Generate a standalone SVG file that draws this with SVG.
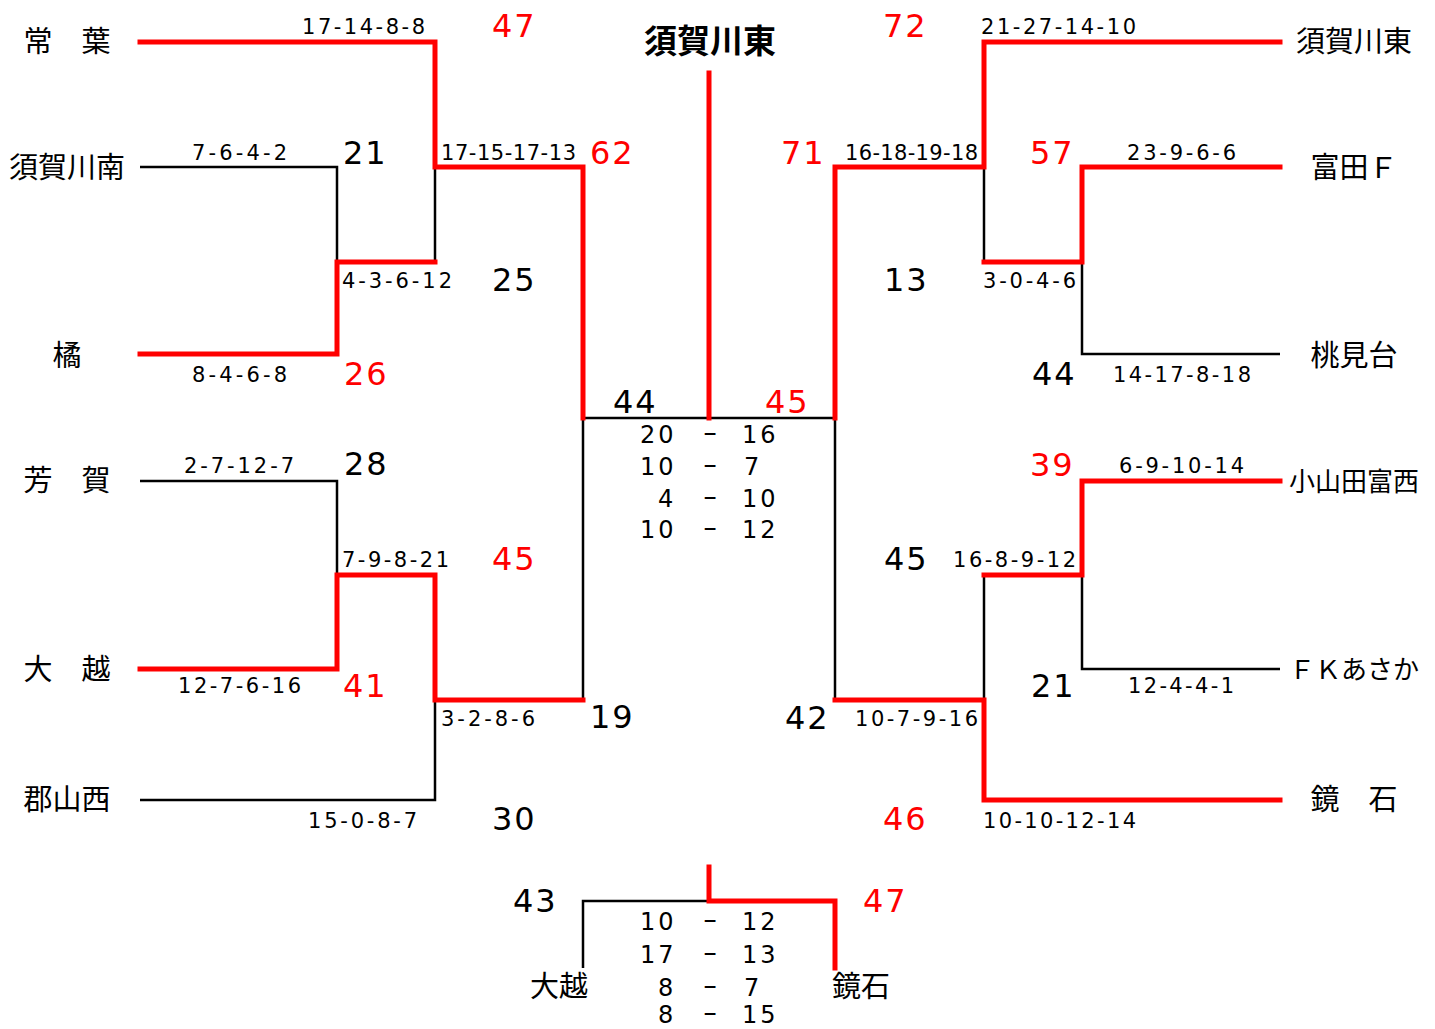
<svg xmlns="http://www.w3.org/2000/svg" width="1435" height="1029" viewBox="0 0 1435 1029">
<style>
.bk{fill:none;stroke:#000;stroke-width:2.5;stroke-linejoin:miter}
.rd{fill:none;stroke:#ff0000;stroke-width:5;stroke-linejoin:miter;stroke-linecap:square}
.nm{font-family:"Noto Sans CJK JP","Noto Sans CJK SC",sans-serif;font-size:29px;fill:#000;text-anchor:middle}
.nms{font-size:26px}
.ttl{font-family:"Noto Sans CJK JP","Noto Sans CJK SC",sans-serif;font-size:33px;font-weight:bold;fill:#000;text-anchor:middle}
.big{font-family:"DejaVu Sans",Verdana,sans-serif;font-size:32px;letter-spacing:2px;fill:#000}
.r{fill:#ff0000}
.set{font-family:"DejaVu Sans",Verdana,sans-serif;font-size:21px;fill:#000}
.cs{font-family:"DejaVu Sans",Verdana,sans-serif;font-size:24px;letter-spacing:3px;fill:#000}
.dash{font-family:"DejaVu Sans",Verdana,sans-serif;font-size:24px;fill:#000;text-anchor:middle}
</style>
<g id="connectors">
<path class="bk" d="M140,167 H337 V262"/>
<path class="bk" d="M435,167 V262"/>
<path class="bk" d="M140,481 H337 V575"/>
<path class="bk" d="M140,800 H435 V700"/>
<path class="bk" d="M583,700 V418 H835 V700"/>
<path class="bk" d="M1280,354 H1082 V262"/>
<path class="bk" d="M984,167 V262"/>
<path class="bk" d="M1280,669 H1082 V575"/>
<path class="bk" d="M984,575 V700"/>
<path class="bk" d="M709,901 H583 V968"/>
<path class="rd" d="M140,42 H435 V167 H583 V418"/>
<path class="rd" d="M709,73 V418"/>
<path class="rd" d="M140,354 H337 V262 H435"/>
<path class="rd" d="M140,669 H337 V575 H435 V700 H583"/>
<path class="rd" d="M1280,42 H984 V167 H835 V418"/>
<path class="rd" d="M1280,167 H1082 V262 H984"/>
<path class="rd" d="M1280,481 H1082 V575 H984"/>
<path class="rd" d="M1280,800 H984 V700 H835"/>
<path class="rd" d="M709,867 V901 H835 V968"/>
</g>
<g id="title"><text class="ttl" x="710" y="53">須賀川東</text></g>
<g id="team-tokiwa"><text class="nm" x="67" y="52">常　葉</text></g>
<g id="team-sukagawaminami"><text class="nm" x="67" y="178">須賀川南</text></g>
<g id="team-tachibana"><text class="nm" x="67" y="366">橘</text></g>
<g id="team-haga"><text class="nm" x="67" y="491">芳　賀</text></g>
<g id="team-ogoe"><text class="nm" x="67" y="680">大　越</text></g>
<g id="team-koriyamanishi"><text class="nm" x="67" y="810">郡山西</text></g>
<g id="team-sukagawahigashi"><text class="nm" x="1354" y="52">須賀川東</text></g>
<g id="team-tomitaf"><text class="nm" x="1354" y="178">富田Ｆ</text></g>
<g id="team-momomidai"><text class="nm" x="1354" y="366">桃見台</text></g>
<g id="team-oyamadatominishi"><text class="nm nms" x="1354" y="491">小山田富西</text></g>
<g id="team-fkasaka"><text class="nm nms" x="1354" y="679">ＦＫあさか</text></g>
<g id="team-kagamiishi"><text class="nm" x="1354" y="810">鏡　石</text></g>
<g id="team-ogoe-3rd"><text class="nm" x="559" y="997">大越</text></g>
<g id="team-kagamiishi-3rd"><text class="nm" x="861" y="997">鏡石</text></g>
<g id="scores">
<text class="big r" x="492" y="37">47</text>
<text class="big" x="343" y="164">21</text>
<text class="big r" x="590" y="164">62</text>
<text class="big" x="492" y="291">25</text>
<text class="big r" x="344" y="385">26</text>
<text class="big" x="613" y="413">44</text>
<text class="big" x="344" y="475">28</text>
<text class="big r" x="492" y="570">45</text>
<text class="big r" x="343" y="697">41</text>
<text class="big" x="590" y="728">19</text>
<text class="big" x="492" y="830">30</text>
<text class="big r" x="765" y="413">45</text>
<text class="big r" x="883" y="37">72</text>
<text class="big r" x="781" y="164">71</text>
<text class="big r" x="1030" y="164">57</text>
<text class="big" x="884" y="291">13</text>
<text class="big" x="1032" y="385">44</text>
<text class="big r" x="1030" y="476">39</text>
<text class="big" x="884" y="570">45</text>
<text class="big" x="1031" y="697">21</text>
<text class="big" x="785" y="729">42</text>
<text class="big r" x="883" y="830">46</text>
<text class="big" x="513" y="912">43</text>
<text class="big r" x="863" y="912">47</text>
</g>
<g id="set-scores">
<text class="set" x="302" y="34" textLength="123">17-14-8-8</text>
<text class="set" x="192" y="160" textLength="95">7-6-4-2</text>
<text class="set" x="441" y="160" textLength="135">17-15-17-13</text>
<text class="set" x="342" y="288" textLength="110">4-3-6-12</text>
<text class="set" x="192" y="382" textLength="95">8-4-6-8</text>
<text class="set" x="184" y="473" textLength="110">2-7-12-7</text>
<text class="set" x="342" y="567" textLength="107">7-9-8-21</text>
<text class="set" x="178" y="693" textLength="123">12-7-6-16</text>
<text class="set" x="441" y="726" textLength="94">3-2-8-6</text>
<text class="set" x="308" y="828" textLength="109">15-0-8-7</text>
<text class="set" x="981" y="34" textLength="155">21-27-14-10</text>
<text class="set" x="845" y="160" textLength="133">16-18-19-18</text>
<text class="set" x="1127" y="160" textLength="109">23-9-6-6</text>
<text class="set" x="983" y="288" textLength="93">3-0-4-6</text>
<text class="set" x="1113" y="382" textLength="138">14-17-8-18</text>
<text class="set" x="1119" y="473" textLength="125">6-9-10-14</text>
<text class="set" x="953" y="567" textLength="123">16-8-9-12</text>
<text class="set" x="1128" y="693" textLength="106">12-4-4-1</text>
<text class="set" x="855" y="726" textLength="123">10-7-9-16</text>
<text class="set" x="983" y="828" textLength="153">10-10-12-14</text>
</g>
<g id="final-scores">
<text class="cs" x="640" y="443">20</text><text class="dash" transform="translate(710,441) scale(1.7,1)">-</text><text class="cs" x="742" y="443">16</text>
<text class="cs" x="640" y="475">10</text><text class="dash" transform="translate(710,473) scale(1.7,1)">-</text><text class="cs" x="744" y="475">7</text>
<text class="cs" x="658" y="507">4</text><text class="dash" transform="translate(710,505) scale(1.7,1)">-</text><text class="cs" x="742" y="507">10</text>
<text class="cs" x="640" y="538">10</text><text class="dash" transform="translate(710,536) scale(1.7,1)">-</text><text class="cs" x="742" y="538">12</text>
</g>
<g id="third-place-scores">
<text class="cs" x="640" y="930">10</text><text class="dash" transform="translate(710,928) scale(1.7,1)">-</text><text class="cs" x="742" y="930">12</text>
<text class="cs" x="640" y="963">17</text><text class="dash" transform="translate(710,961) scale(1.7,1)">-</text><text class="cs" x="742" y="963">13</text>
<text class="cs" x="658" y="996">8</text><text class="dash" transform="translate(710,994) scale(1.7,1)">-</text><text class="cs" x="744" y="996">7</text>
<text class="cs" x="658" y="1023">8</text><text class="dash" transform="translate(710,1021) scale(1.7,1)">-</text><text class="cs" x="742" y="1023">15</text>
</g>
</svg>
